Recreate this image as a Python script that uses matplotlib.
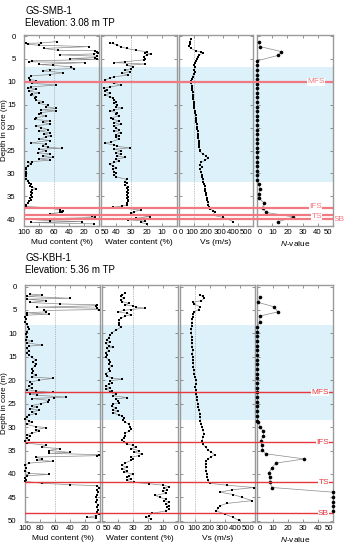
import matplotlib.pyplot as plt

plt.rcParams['font.family'] = ['Liberation Sans', 'DejaVu Sans']
plt.rcParams['mathtext.fontset'] = 'custom'
plt.rcParams['mathtext.it'] = 'Liberation Sans:italic'
plt.rcParams['mathtext.rm'] = 'Liberation Sans'

# ---------------- GS-SMB-1 ----------------
smb_mud_depth = [1.2, 1.5, 1.6, 1.8, 2.0, 2.3, 2.7, 3.1, 3.2, 3.4, 3.6, 3.9, 4.1, 4.4, 4.7, 4.9, 5.1, 5.4,
                 5.6, 5.8, 6.2, 6.4, 6.7, 7.1, 7.3, 7.6, 8.0, 8.4, 8.7, 9.1, 9.5, 9.7, 10.3, 10.7, 11.1,
                 11.4, 11.6, 12.0, 12.4, 12.7, 12.9, 13.2, 13.6, 14.0, 14.3, 14.7, 15.1, 15.4, 15.8, 16.1,
                 16.3, 16.7, 17.0, 17.5, 17.8, 18.2, 18.5, 18.8, 19.2, 19.6, 20.0, 20.4, 20.7, 21.1, 21.4,
                 21.8, 22.1, 22.5, 22.8, 23.3, 23.6, 23.9, 24.3, 24.5, 24.7, 25.0, 25.5, 25.7, 26.2, 26.5,
                 26.8, 27.1, 27.4, 27.6, 27.9, 28.4, 28.7, 29.1, 29.6, 30.1, 30.5, 31.1, 31.6, 32.0, 32.3,
                 32.7, 33.0, 33.3, 33.6, 34.0, 34.3, 34.7, 35.1, 35.4, 35.8, 36.1, 36.5, 36.9, 37.2, 37.5,
                 38.0, 38.1, 38.3, 38.5, 38.8, 39.3, 39.6, 40.0, 40.3, 40.5, 40.7, 41.0]
smb_mud = [56, 77, 98, 95, 80, 14, 73, 55, 6, 3, 1, 7, 52, 3, 5, 39, 3, 89,
           94, 19, 80, 62, 37, 34, 66, 75, 48, 66, 91, 93, 92, 84, 89, 57, 91,
           95, 84, 94, 80, 89, 91, 84, 86, 84, 75, 80, 68, 71, 57, 77,
           57, 77, 80, 71, 84, 86, 66, 75, 66, 84, 77, 68, 80, 66, 73,
           64, 71, 80, 66, 91, 71, 75, 68, 50, 80, 71, 82, 66, 75, 62,
           80, 66, 89, 95, 91, 95, 98, 97, 98, 97, 98, 97, 95, 94, 91,
           92, 89, 84, 89, 91, 89, 91, 89, 92, 91, 94, 95, 98, 98, 66,
           52, 48, 50, 52, 66, 10, 5, 93, 66, 23, 91, 7]

smb_wat_depth = [1.5, 1.6, 2.0, 2.3, 2.7, 3.1, 3.4, 3.6, 3.9, 4.1, 4.5, 4.9, 5.2, 5.6, 5.8, 6.1, 6.4,
                 6.7, 7.1, 7.4, 7.8, 8.1, 8.5, 8.9, 9.2, 9.6, 10.0, 10.3, 10.7, 11.1, 11.4, 11.8, 12.1,
                 12.5, 12.9, 13.2, 13.6, 14.0, 14.3, 14.7, 15.1, 15.4, 15.8, 16.1, 16.4, 16.7, 17.0,
                 17.5, 17.8, 18.2, 18.5, 18.9, 19.3, 19.6, 20.0, 20.4, 20.7, 21.1, 21.5, 21.8, 22.1,
                 22.5, 23.1, 23.4, 23.8, 24.1, 24.4, 24.7, 25.0, 25.5, 25.7, 26.2, 26.5, 26.9, 27.3,
                 27.6, 27.9, 28.4, 28.7, 29.1, 29.6, 30.0, 30.3, 30.7, 31.3, 31.8, 32.1, 32.5, 32.9,
                 33.2, 33.6, 34.0, 34.3, 34.7, 35.1, 35.4, 35.8, 36.1, 36.5, 36.9, 37.1, 37.4, 37.6,
                 38.0, 38.3, 38.7, 39.1, 39.4, 39.8, 40.1, 40.4, 40.7, 41.0]
smb_wat = [44, 42, 39, 37, 33, 27, 20, 21, 17, 20, 22, 21, 22, 34, 41, 21, 33,
           29, 30, 34, 31, 36, 32, 41, 44, 47, 46, 41, 37, 44, 48, 46, 47,
           44, 47, 44, 42, 41, 40, 41, 39, 40, 36, 41, 44, 39, 40,
           38, 43, 42, 38, 41, 37, 41, 40, 38, 41, 37, 40, 38, 40,
           38, 43, 47, 41, 39, 31, 41, 37, 40, 37, 39, 34, 40, 38,
           41, 44, 42, 40, 42, 41, 40, 41, 40, 33, 34, 33, 34, 32,
           33, 32, 33, 32, 33, 32, 33, 32, 32, 33, 33, 36, 42, 34,
           24, 28, 30, 26, 18, 27, 32, 21, 24, 20]

smb_vs_depth = [0.7, 1.2, 1.7, 2.2, 2.7, 3.2, 3.5, 3.8, 4.1, 4.5, 4.9, 5.4, 5.8, 6.3, 6.8, 7.3, 7.8,
                8.3, 8.9, 9.4, 9.8, 10.3, 10.8, 11.3, 11.8, 12.3, 12.8, 13.3, 13.8, 14.3, 14.8, 15.3,
                15.8, 16.3, 16.8, 17.3, 17.8, 18.3, 18.8, 19.3, 19.8, 20.3, 20.8, 21.3, 21.8, 22.3,
                22.8, 23.3, 23.8, 24.3, 24.8, 25.2, 25.7, 26.2, 26.7, 27.1, 27.6, 28.1, 28.5, 29.1,
                29.6, 30.3, 30.8, 31.3, 31.8, 32.3, 32.8, 33.3, 33.8, 34.3, 34.8, 35.3, 35.8, 36.3,
                36.8, 37.3, 37.7, 38.1, 38.5, 39.1, 39.6, 40.0, 40.5]
smb_vs = [80, 76, 73, 69, 80, 115, 149, 161, 133, 126, 119, 115, 110, 103, 110, 103, 108,
          99, 92, 87, 80, 83, 87, 88, 90, 92, 94, 96, 97, 100, 101, 103,
          105, 107, 110, 112, 113, 116, 118, 120, 122, 124, 127, 128, 131, 132,
          134, 135, 137, 138, 140, 142, 161, 183, 195, 179, 149, 142, 156, 142,
          147, 154, 158, 161, 165, 170, 174, 177, 179, 181, 185, 188, 192, 196,
          200, 206, 210, 229, 241, 229, 298, 333, 367]

smb_n_depth = [1.3, 2.3, 3.4, 4.2, 5.4, 6.4, 7.4, 8.4, 9.4, 10.4, 11.4, 12.4, 13.4, 14.4, 15.4, 16.4,
               17.4, 18.4, 19.4, 20.4, 21.4, 22.4, 23.4, 24.4, 25.4, 26.4, 27.4, 28.4, 29.4, 30.4,
               31.4, 32.4, 33.4, 34.4, 35.4, 36.4, 37.5, 38.5, 39.5, 40.5]
smb_n = [1, 2, 16, 14, 0, 0, 0, 0, 0, 0, 0, 0, 0, 0, 0, 0,
         0, 0, 0, 0, 0, 0, 0, 0, 0, 0, 0, 0, 0, 0,
         0, 1, 2, 1, 1, 4.5, 3.5, 6, 24, 14]

smb_shade = (6.7, 31.8)
smb_surfaces = [('MFS', 10.0), ('IFS', 37.5), ('TS', 39.0), ('SB', 40.0)]

# ---------------- GS-KBH-1 ----------------
kbh_mud_depth = [1.6, 1.8, 2.1, 2.5, 2.7, 3.0, 3.4, 3.7, 3.9, 4.1, 4.4, 4.6, 4.9, 5.1, 5.4, 5.6, 5.9,
                 6.1, 6.4, 7.0, 7.5, 8.0, 8.6, 9.1, 9.6, 10.2, 10.7, 11.3, 11.6, 12.0, 12.5, 12.7, 13.2,
                 13.7, 14.1, 14.6, 15.1, 15.6, 16.1, 16.6, 17.0, 17.5, 18.0, 18.4, 18.9, 19.3, 19.6,
                 20.0, 20.4, 20.9, 21.3, 21.6, 22.0, 22.3, 22.6, 22.9, 23.2, 23.6, 23.7, 23.9, 24.3,
                 24.6, 25.0, 25.4, 25.7, 26.1, 26.4, 26.8, 27.1, 27.5, 27.9, 28.2, 28.6, 28.9, 29.4,
                 29.9, 30.1, 30.6, 30.9, 31.3, 31.6, 32.0, 32.3, 32.7, 33.0, 33.4, 33.9, 34.3, 34.6,
                 35.0, 35.4, 35.6, 35.9, 36.1, 36.4, 36.8, 37.1, 37.3, 37.7, 38.2, 38.7, 39.3, 39.9,
                 40.1, 40.4, 40.9, 41.3, 41.6, 42.0, 42.3, 42.5, 42.9, 43.4, 43.9, 44.4, 45.0, 45.6,
                 46.1, 46.6, 47.1, 47.7, 48.2, 48.6, 48.9, 49.3, 49.4]
kbh_mud = [93, 77, 98, 40, 98, 72, 93, 54, 4, 6, 84, 4, 1, 75, 72, 98, 68,
           98, 100, 99, 100, 98, 96, 95, 98, 99, 98, 99, 91, 98, 77, 95, 98,
           95, 98, 95, 91, 86, 89, 86, 87, 91, 89, 91, 86, 91, 63,
           82, 93, 91, 95, 91, 98, 86, 63, 93, 84, 45, 61, 91, 68,
           70, 79, 91, 84, 93, 82, 91, 86, 95, 98, 100, 95, 91, 98,
           86, 72, 86, 82, 91, 98, 93, 98, 95, 100, 98, 72, 77, 54,
           68, 40, 68, 1, 4, 86, 77, 84, 63, 95, 100, 99, 100, 95,
           68, 98, 100, 99, 100, 77, 40, 4, 1, 4, 3, 4, 5, 4,
           5, 3, 4, 3, 4, 1, 5, 17, 6]

kbh_wat_depth = [1.4, 1.8, 2.1, 2.5, 2.9, 3.2, 3.6, 3.9, 4.1, 4.4, 4.6, 4.9, 5.1, 5.4, 5.7, 6.0, 6.3,
                 6.8, 7.1, 7.7, 8.2, 8.7, 9.3, 9.9, 10.4, 10.9, 11.4, 11.9, 12.1, 12.6, 12.9, 13.2,
                 13.7, 14.1, 14.6, 15.1, 15.6, 16.1, 16.6, 17.0, 17.5, 18.0, 18.6, 19.1, 19.5, 19.8,
                 20.1, 20.6, 20.9, 21.3, 21.6, 21.9, 22.3, 22.6, 23.0, 23.3, 23.7, 24.0, 24.4, 24.8,
                 25.1, 25.6, 25.9, 26.3, 26.6, 27.0, 27.4, 27.7, 28.1, 28.4, 28.9, 29.4, 29.9, 30.4,
                 30.9, 31.3, 31.8, 32.3, 32.7, 33.1, 33.6, 33.9, 34.3, 34.6, 35.0, 35.4, 35.7, 36.1,
                 36.4, 36.8, 37.1, 37.7, 38.2, 38.6, 38.9, 39.3, 39.6, 40.0, 40.4, 40.7, 41.1, 41.4,
                 41.8, 42.1, 42.4, 42.7, 43.0, 43.4, 43.7, 44.1, 44.6, 45.0, 45.4, 45.7, 46.1, 46.4,
                 46.8, 47.1, 47.5, 47.9, 48.4, 48.9, 49.3, 49.6]
kbh_wat = [35, 37, 38, 36, 38, 37, 32.5, 35, 30, 28, 22, 31, 36, 40, 34, 31, 35,
           38, 39, 39, 39, 38, 41, 44, 45, 46, 47, 45, 48, 46, 43, 47,
           46, 48, 47, 48, 46, 45, 46, 44, 46, 45, 48, 47, 44, 37,
           45, 44, 46, 48, 45, 48, 44, 45, 41, 43, 34, 41, 40, 39,
           43, 44, 41, 43, 40, 43, 39, 37, 36, 36.5, 35, 32.5, 32, 31,
           32.5, 35, 35, 36, 37, 36, 34, 30, 28, 31, 26, 29, 24, 26,
           31, 30, 31, 35, 37, 34, 37, 34, 36, 30, 32.5, 34, 31, 34,
           29, 19, 10, 6, 9, 7, 10, 8, 15, 12, 8, 9, 6, 8,
           6, 7, 6, 8, 17, 19, 21, 18]

kbh_vs_depth = [1.8, 2.1, 2.5, 3.0, 3.4, 3.7, 4.3, 4.9, 5.4, 5.9, 6.4, 7.0, 7.7, 8.4, 9.1, 10.0,
                10.7, 11.4, 12.1, 12.9, 13.6, 14.3, 15.0, 15.7, 16.4, 17.1, 17.9, 18.6, 19.3, 20.0,
                20.7, 21.4, 22.1, 22.9, 23.6, 24.3, 25.0, 25.7, 26.4, 27.1, 27.9, 28.6, 29.3, 30.0,
                30.7, 31.4, 32.1, 32.9, 33.6, 34.3, 34.9, 35.4, 35.9, 36.3, 36.8, 37.3, 37.9, 38.6,
                39.3, 40.0, 40.7, 41.4, 42.0, 42.4, 42.9, 43.4, 43.9, 44.4, 45.0, 45.7, 46.3, 46.8,
                47.3, 47.9, 48.6, 49.3, 49.9]
kbh_vs = [130, 152, 163, 141, 84, 95, 130, 125, 95, 89, 84, 80, 80, 77, 75, 75,
          80, 77, 80, 80, 84, 82, 84, 86, 89, 89, 91, 95, 98, 107,
          107, 102, 107, 107, 111, 114, 118, 123, 125, 130, 134, 136, 141, 148,
          152, 157, 152, 148, 152, 170, 186, 209, 232, 209, 186, 175, 170, 170,
          175, 179, 182, 186, 198, 311, 493, 345, 266, 356, 413, 481, 311, 266,
          254, 243, 300, 356, 391]

kbh_n_depth = [2.3, 3.4, 4.3, 5.4, 6.3, 7.5, 8.6, 9.6, 10.6, 11.6, 12.6, 13.6, 14.6, 15.6, 16.6,
               17.6, 18.6, 19.6, 20.6, 21.6, 22.6, 23.6, 24.6, 25.6, 26.6, 27.6, 28.6, 28.9, 29.9,
               30.9, 31.8, 32.9, 33.9, 34.9, 35.7, 36.8, 37.7, 38.7, 39.9, 40.7, 41.8, 42.9, 43.9,
               44.9, 45.9, 46.9, 47.9]
kbh_n = [1.6, 0.7, 11, 13.5, 1.6, 1.6, 0, 0, 0, 0, 0, 0, 0, 0, 0,
         0, 0, 0, 0, 0, 0, 0, 0, 0, 0, 0, 0, 0.7, 1.6,
         4, 4, 2.3, 3, 3.4, 5.6, 31, 12, 9.7, 7.4, 8.3, 8.3, 9.7, 50,
         50, 50, 50, 50]

kbh_shade = (8.2, 28.5)
kbh_surfaces = [('MFS', 22.6), ('IFS', 33.2), ('TS', 41.8), ('SB', 48.4)]

xlabels = ['Mud content (%)', 'Water content (%)', 'Vs (m/s)', r'$\it{N}$-value']
xlims = [(100, 0), (50, 0), (0, 500), (0, 50)]
xticks = [[100, 80, 60, 40, 20, 0], [50, 40, 30, 20, 10, 0],
          [0, 100, 200, 300, 400, 500], [0, 10, 20, 30, 40, 50]]
ref_lines = [60, 30, 100, None]
# Vs labels are squeezed to the left in the original (pixel nudges)
vs_nudge = [2, -1.5, -2, -3, -4.5, -6.5]

W, H = 346, 550
TICK_FS = 5.6
fig = plt.figure(figsize=(W / 100, H / 100), dpi=100)


def box(x0, y0, x1, y1):
    return [x0 / W, 1 - y1 / H, (x1 - x0) / W, (y1 - y0) / H]


def draw_core(title, elev, ty, y0, y1, ylim, yticks, cols, series, shade, surfaces,
              red, red_lw, label_x):
    # background for shading
    bg = fig.add_axes(box(cols[0][0], y0, cols[-1][1], y1))
    bg.set_ylim(ylim)
    bg.axis('off')
    bg.axhspan(shade[0], shade[1], color='#dcf1fa', lw=0)

    for i, (xa, xb) in enumerate(cols):
        ax = fig.add_axes(box(xa, y0, xb, y1))
        ax.patch.set_alpha(0)
        ax.set_ylim(ylim)
        ax.set_xlim(xlims[i])
        ax.set_xticks(xticks[i])
        ax.set_yticks(yticks)
        if i > 0:
            ax.set_yticklabels([])
        for sp in ax.spines.values():
            sp.set_color('#9a9a9a')
            sp.set_linewidth(1.0)
        ax.tick_params(direction='in', top=True, right=True, length=2.5, width=0.5,
                       color='#666666', labelsize=TICK_FS, pad=2.2)
        ax.tick_params(axis='y', pad=6.0)
        if i == 2:
            ax.tick_params(axis='x', labelbottom=False)
            for v, dx in zip(xticks[i], vs_nudge):
                ax.annotate(str(v), xy=(v, 0), xycoords=ax.get_xaxis_transform(),
                            xytext=(dx * 0.72, -2.2), textcoords='offset points',
                            ha='center', va='top', fontsize=TICK_FS)
        else:
            labs = ax.get_xticklabels()
            if i > 0:
                labs[0].set_ha('left')
            labs[-1].set_ha('right')
        ax.set_xlabel(xlabels[i], fontsize=6)
        ax.xaxis.set_label_coords(0.5, -13.5 / (y1 - y0))
        if ref_lines[i] is not None:
            ax.axvline(ref_lines[i], color='#888888', lw=0.5, ls=(0, (1, 1.5)))
        d, v = series[i]
        if i == 3:
            ax.plot(v, d, color='#8a8a8a', lw=0.5, marker='o', ms=2.6, mfc='black',
                    mec='black', mew=0, clip_on=False, zorder=3)
        else:
            ax.plot(v, d, color='#8a8a8a', lw=0.5, marker='s', ms=1.6, mfc='black',
                    mec='black', mew=0, clip_on=False, zorder=3)

    fig.text(4.5 / W, 1 - (y0 + y1) / 2 / H, 'Depth in core (m)', fontsize=5.8,
             rotation=90, ha='center', va='center')

    ov = fig.add_axes(box(cols[0][0], y0, cols[-1][1], y1))
    ov.set_ylim(ylim)
    ov.set_xlim(0, 1)
    ov.axis('off')
    span = cols[-1][1] - cols[0][0]
    for name, dep in surfaces:
        ov.axhline(dep, color=red, lw=red_lw)
        xp, ha, dy = label_x[name]
        ov.annotate(name, xy=((xp - cols[0][0]) / span, dep), xytext=(0, -dy * 0.72),
                    textcoords='offset points', color=red, fontsize=6,
                    ha=ha, va='center', annotation_clip=False,
                    bbox=dict(facecolor='white', edgecolor='none', pad=0.2))

    fig.text(25 / W, 1 - ty / H, title, fontsize=7, va='center', ha='left')
    fig.text(25 / W, 1 - (ty + 12) / H, elev, fontsize=7, va='center', ha='left')


draw_core('GS-SMB-1', 'Elevation: 3.08 m TP', 10.5, 34.7, 225.7, (41.4, -0.3),
          range(0, 41, 5),
          [(24, 99), (100.5, 177.5), (179, 252.7), (257.3, 332.7)],
          [(smb_mud_depth, smb_mud), (smb_wat_depth, smb_wat),
           (smb_vs_depth, smb_vs), (smb_n_depth, smb_n)],
          smb_shade, smb_surfaces, '#f17a82', 1.6,
          {'MFS': (325, 'right', 0), 'IFS': (322, 'right', -1.8), 'TS': (322, 'right', 1.8),
           'SB': (334, 'left', 0)})

draw_core('GS-KBH-1', 'Elevation: 5.36 m TP', 258.3, 284.7, 521.7, (50.2, -0.4),
          range(0, 51, 5),
          [(25, 100), (102.5, 178), (180, 255), (257.3, 333.3)],
          [(kbh_mud_depth, kbh_mud), (kbh_wat_depth, kbh_wat),
           (kbh_vs_depth, kbh_vs), (kbh_n_depth, kbh_n)],
          kbh_shade, kbh_surfaces, '#e8373f', 1.0,
          {'MFS': (329, 'right', 0), 'IFS': (329, 'right', 0), 'TS': (329, 'right', 0),
           'SB': (329, 'right', 0)})

fig.savefig('out.png', dpi=100)
